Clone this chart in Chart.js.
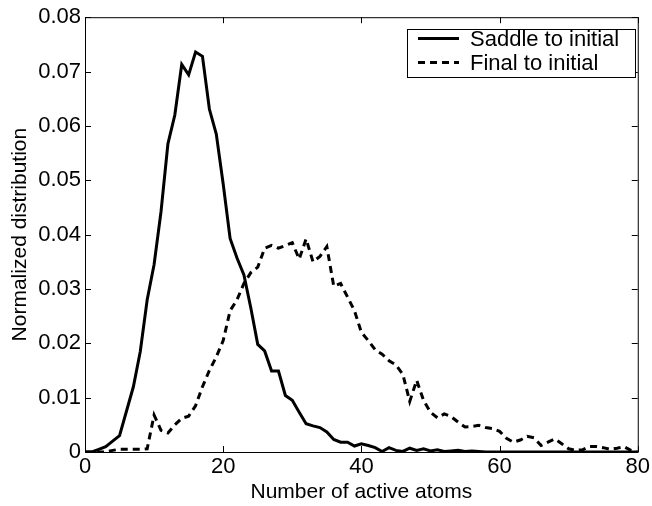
<!DOCTYPE html>
<html>
<head>
<meta charset="utf-8">
<script src="https://cdn.jsdelivr.net/npm/chart.js@4"></script>
<style>
html,body{margin:0;padding:0;background:#fff;}
#wrap{width:652px;height:506px;}
</style>
</head>
<body>
<div id="wrap"><canvas id="c" width="652" height="506"></canvas></div>
<script>
const atoms = [];
for (let i = 0; i <= 80; i++) atoms.push(i);
const saddleToInitial = [0,0,0.0005,0.001,0.002,0.003,0.0075,0.012,0.0185,0.028,0.0345,0.0442,0.0567,0.062,0.0713,0.0694,0.0736,0.0728,0.0631,0.0585,0.0493,0.0393,0.0357,0.0326,0.0265,0.0198,0.0186,0.0149,0.0149,0.0104,0.0095,0.0073,0.0052,0.0048,0.0045,0.0037,0.0023,0.0018,0.0018,0.0011,0.0015,0.0012,0.0008,0.0001,0.0008,0.0003,0.0001,0.0007,0.0003,0.0006,0.0002,0.0004,0.0001,0.0002,0.0003,0.0001,0.0002,0.0001,0,0,0,0,0,0,0,0,0,0,0,0,0,0,0,0,0,0,0,0,0,0,0];
const finalToInitial = [0,0,0,0,0.0003,0.0005,0.0005,0.0005,0.0005,0.0006,0.0068,0.004,0.0035,0.005,0.0062,0.0066,0.0085,0.012,0.015,0.0175,0.0205,0.026,0.028,0.031,0.033,0.034,0.0375,0.038,0.0375,0.038,0.0385,0.0355,0.0392,0.035,0.036,0.0378,0.0305,0.031,0.0285,0.026,0.022,0.0205,0.0188,0.018,0.0168,0.016,0.0143,0.0093,0.0132,0.0095,0.0073,0.0063,0.007,0.0065,0.0055,0.0046,0.0047,0.0049,0.0045,0.0043,0.0038,0.0025,0.0018,0.0022,0.0029,0.0026,0.0012,0.0018,0.0024,0.0015,0.0006,0.0003,0.0004,0.001,0.001,0.0008,0.0005,0.0007,0.001,0.0003,0];
const seriesLabels = ["Saddle to initial", "Final to initial"];
const xTicks = [0,20,40,60,80];
const yTicks = [0,0.01,0.02,0.03,0.04,0.05,0.06,0.07,0.08];

const FONT = "'Liberation Sans', Arial, Helvetica, sans-serif";

const toPts = arr => atoms.map((a, i) => ({x: a, y: arr[i]}));

const matlabAxes = {
  id: 'matlabAxes',
  afterDatasetsDraw(chart) {
    const {ctx, chartArea: a, scales: {x, y}} = chart;
    ctx.save();
    ctx.strokeStyle = '#000';
    ctx.lineWidth = 1;
    ctx.beginPath();
    ctx.rect(a.left + 0.5, a.top + 0.5, a.right - a.left, a.bottom - a.top);
    ctx.stroke();
    const L = 6;
    ctx.beginPath();
    xTicks.forEach(v => {
      const px = Math.round(x.getPixelForValue(v)) + 0.5;
      ctx.moveTo(px, a.bottom); ctx.lineTo(px, a.bottom - L);
      ctx.moveTo(px, a.top); ctx.lineTo(px, a.top + L);
    });
    yTicks.forEach(v => {
      const py = Math.round(y.getPixelForValue(v)) + 0.5;
      ctx.moveTo(a.left, py); ctx.lineTo(a.left + L, py);
      ctx.moveTo(a.right, py); ctx.lineTo(a.right - L, py);
    });
    ctx.stroke();

    // legend
    const bx = 407.5, by = 29.5, bw = 228, bh = 48;
    ctx.fillStyle = '#fff';
    ctx.fillRect(bx, by, bw, bh);
    ctx.strokeRect(bx, by, bw, bh);
    ctx.font = '22px ' + FONT;
    ctx.fillStyle = '#000';
    ctx.textBaseline = 'middle';
    const rows = [38.5, 62.5];
    chart.data.datasets.forEach((ds, i) => {
      ctx.beginPath();
      ctx.lineWidth = ds.borderWidth;
      ctx.setLineDash(ds.borderDash || []);
      ctx.moveTo(418, rows[i]); ctx.lineTo(459, rows[i]);
      ctx.stroke();
      ctx.setLineDash([]);
      ctx.fillText(ds.label, 470, rows[i] + 1);
    });
    ctx.restore();
  }
};

new Chart(document.getElementById('c'), {
  type: 'line',
  data: {
    datasets: [
      {label: seriesLabels[0], data: toPts(saddleToInitial), borderColor: '#000', borderWidth: 3, pointRadius: 0, tension: 0, fill: false},
      {label: seriesLabels[1], data: toPts(finalToInitial), borderColor: '#000', borderWidth: 3, borderDash: [7, 5], pointRadius: 0, tension: 0, fill: false}
    ]
  },
  options: {
    responsive: false,
    animation: false,
    layout: {padding: {top: 14, right: 11, left: 0, bottom: 0}},
    plugins: {legend: {display: false}, tooltip: {enabled: false}},
    scales: {
      x: {
        type: 'linear', min: 0, max: 80,
        afterBuildTicks: s => { s.ticks = xTicks.map(v => ({value: v})); },
        afterFit: s => { s.height = 54; },
        grid: {display: false, drawTicks: false},
        border: {display: false},
        ticks: {color: '#000', font: {family: FONT, size: 22}, padding: 2, maxRotation: 0, callback: v => String(v)},
        title: {display: true, text: 'Number of active atoms', color: '#000', font: {family: FONT, size: 21}, padding: {top: 0, bottom: 1}}
      },
      y: {
        type: 'linear', min: 0, max: 0.08,
        afterBuildTicks: s => { s.ticks = yTicks.map(v => ({value: v})); },
        afterFit: s => { s.width = 85; },
        grid: {display: false, drawTicks: false},
        border: {display: false},
        ticks: {color: '#000', font: {family: FONT, size: 22}, padding: 4, callback: v => (v === 0 ? '0' : v.toFixed(2))},
        title: {display: true, text: 'Normalized distribution', color: '#000', font: {family: FONT, size: 21}, padding: {top: 8, bottom: 0}}
      }
    }
  },
  plugins: [matlabAxes]
});
</script>
</body>
</html>
